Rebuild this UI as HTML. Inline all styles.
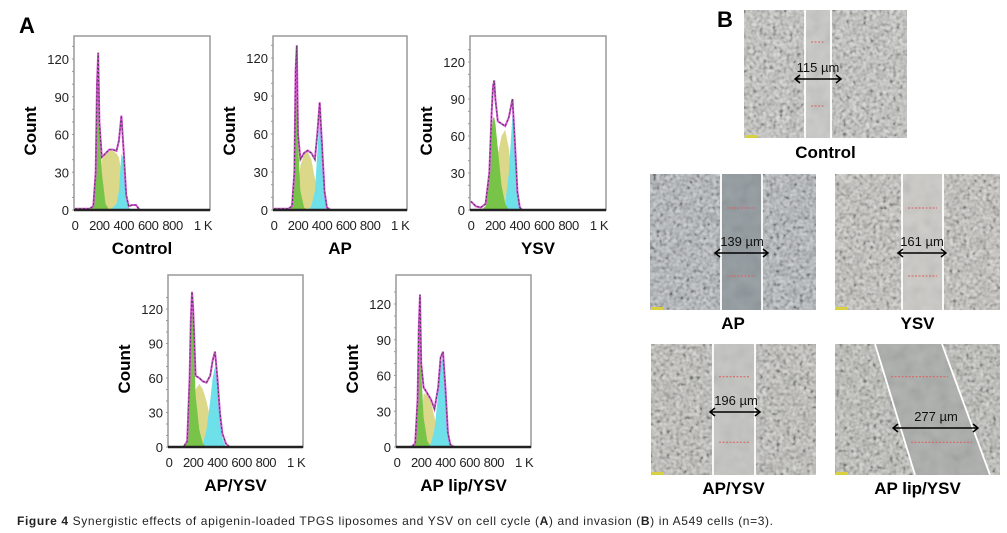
<!DOCTYPE html>
<html><head><meta charset="utf-8">
<style>
html,body{margin:0;padding:0;background:#fff;}
svg{display:block;font-family:"Liberation Sans",sans-serif;}
</style></head>
<body>
<svg id="fig" width="1007" height="533" viewBox="0 0 1007 533" xmlns="http://www.w3.org/2000/svg">
<defs>
<filter id="tex" x="0" y="0" width="100%" height="100%">
<feTurbulence type="fractalNoise" baseFrequency="0.3" numOctaves="2" seed="5"/>
<feGaussianBlur stdDeviation="0.5"/>
<feColorMatrix type="matrix" values="1.4 1.4 0 0 -0.9  1.4 1.4 0 0 -0.9  1.4 1.4 0 0 -0.9  0 0 0 0 0.4"/>
</filter>
<filter id="tex2" x="0" y="0" width="100%" height="100%">
<feTurbulence type="fractalNoise" baseFrequency="0.08" numOctaves="2" seed="9"/>
<feColorMatrix type="matrix" values="0.6 0.6 0 0 -0.2  0.6 0.6 0 0 -0.2  0.6 0.6 0 0 -0.2  0 0 0 0 0.12"/>
</filter>
</defs>
<text x="19" y="33" font-size="22" font-weight="bold">A</text>
<text x="717" y="27" font-size="22" font-weight="bold">B</text>
<g id="hists"></g>
<g id="imgs"></g>
<text x="17" y="525" font-size="12" fill="#222" textLength="756" lengthAdjust="spacing"><tspan font-weight="bold">Figure 4</tspan> Synergistic effects of apigenin-loaded TPGS liposomes and YSV on cell cycle (<tspan font-weight="bold">A</tspan>) and invasion (<tspan font-weight="bold">B</tspan>) in A549 cells (n=3).</text>
</svg>
<script>
// ---- histogram data (DNA content channel vs count) ----
const channelXs = [0,40,80,120,150,170,180,190,200,220,250,280,310,340,360,380,400,420,440,470,500,530];
const yTicks = [0,30,60,90,120];
const xTickLabels = ["0","200","400","600","800","1 K"];
const xTickValues = [0,200,400,600,800,1000];
const panelNames = ["Control","AP","YSV","AP/YSV","AP lip/YSV"];

const controlTotal = [1,1,1,1,3,30,100,125,70,42,45,48,48,47,55,75,45,12,3,4,4,0];
const controlG1    = [0,0,0,0,3,30,100,120,65,30,5,0,0,0,0,0,0,0,0,0,0,0];
const controlS     = [0,0,0,0,0,0,0,5,10,40,45,47,47,45,42,30,10,0,0,0,0,0];
const controlG2    = [0,0,0,0,0,0,0,0,0,0,0,0,2,5,15,45,40,12,2,0,0,0];

const apTotal = [1,1,1,1,3,30,110,130,60,40,45,47,45,40,60,85,50,15,2,0,0,0];
const apG1    = [0,0,0,0,3,30,105,125,55,15,2,0,0,0,0,0,0,0,0,0,0,0];
const apS     = [0,0,0,0,0,0,0,5,15,35,44,46,40,25,10,3,0,0,0,0,0,0];
const apG2    = [0,0,0,0,0,0,0,0,0,0,0,0,3,15,45,75,50,15,2,0,0,0];

const ysvTotal = [7,3,2,5,30,80,100,105,90,72,70,68,75,90,55,15,2,0,0,0,0,0];
const ysvG1    = [0,0,0,3,25,65,75,75,70,50,20,5,0,0,0,0,0,0,0,0,0,0];
const ysvS     = [0,0,0,0,0,5,10,15,20,45,60,65,50,25,8,0,0,0,0,0,0,0];
const ysvG2    = [0,0,0,0,0,0,0,0,0,0,0,5,30,78,50,15,2,0,0,0,0,0];

const apYsvTotal = [0,0,0,0,5,60,110,135,120,62,60,57,56,62,75,83,60,30,12,3,0,0];
const apYsvG1    = [0,0,0,0,5,55,100,120,110,45,15,3,0,0,0,0,0,0,0,0,0,0];
const apYsvS     = [0,0,0,0,0,0,5,10,25,50,55,50,40,25,12,4,0,0,0,0,0,0];
const apYsvG2    = [0,0,0,0,0,0,0,0,0,0,0,3,15,40,60,70,55,25,8,0,0,0];

const apLipTotal = [0,0,0,0,3,40,100,128,70,50,45,40,32,50,75,80,50,12,2,0,0,0];
const apLipG1    = [0,0,0,0,3,38,95,120,65,25,5,0,0,0,0,0,0,0,0,0,0,0];
const apLipS     = [0,0,0,0,0,0,3,8,20,45,44,38,25,10,3,0,0,0,0,0,0,0];
const apLipG2    = [0,0,0,0,0,0,0,0,0,0,0,3,15,45,70,75,45,10,1,0,0,0];

const series = [
  [controlTotal,controlG1,controlS,controlG2],
  [apTotal,apG1,apS,apG2],
  [ysvTotal,ysvG1,ysvS,ysvG2],
  [apYsvTotal,apYsvG1,apYsvS,apYsvG2],
  [apLipTotal,apLipG1,apLipS,apLipG2]
];
// layout (pixels) for each histogram
const layout = [
  {l:74,r:210,t:36,b:210,y120:59},
  {l:273,r:407,t:36,b:210,y120:58},
  {l:470,r:606,t:36,b:210,y120:62},
  {l:168,r:303,t:275,b:447,y120:309},
  {l:396,r:531,t:275,b:447,y120:304}
];
const NS="http://www.w3.org/2000/svg";
function mk(tag,attrs,parent){const e=document.createElementNS(NS,tag);for(const k in attrs)e.setAttribute(k,attrs[k]);parent.appendChild(e);return e;}
const hg=document.getElementById('hists');
layout.forEach((L,i)=>{
  const g=mk('g',{},hg);
  
  
  const yScale=v=>L.b-(L.b-L.y120)*v/120;
  const xScale=v=>L.l+1+v*0.122*(L.r-L.l)/136;
  const fr=mk('rect',{x:L.l,y:L.t,width:L.r-L.l,height:L.b-L.t,fill:'#fff',stroke:'#999','stroke-width':1.5},g);
  
  
  for(let v=0;v<=135;v+=10){mk('line',{x1:L.l-2,x2:L.l,y1:yScale(v),y2:yScale(v),stroke:'#999','stroke-width':1},g);}
  yTicks.forEach(v=>{
    const t=mk('text',{x:L.l-5,y:yScale(v)+5,'font-size':13,'text-anchor':'end',fill:'#222'},g);
    t.textContent=v;
    
    
  });
  xTickValues.forEach((v,j)=>{
    const t=mk('text',{x:xScale(v)+(j===5?6:0),y:L.b+20,'font-size':13,'text-anchor':'middle',fill:'#222','letter-spacing':'-0.4'},g);
    t.textContent=xTickLabels[j];
    
    
  });
  const yl=mk('text',{x:0,y:0,'font-size':17,'font-weight':'bold','text-anchor':'middle',transform:`translate(${L.l-38},${(L.t+L.b)/2+8}) rotate(-90)`},g);
  yl.textContent='Count';
  
  
  const xl=mk('text',{x:(L.l+L.r)/2,y:L.b+44,'font-size':17,'font-weight':'bold','text-anchor':'middle'},g);
  xl.textContent=panelNames[i];
  
  
  const [tot,g1,s,g2]=series[i];
  const area=(arr,fill,name)=>{
    let d=`M${xScale(channelXs[0])},${yScale(0)}`;
    arr.forEach((v,k)=>{d+=` L${xScale(channelXs[k]).toFixed(1)},${yScale(v).toFixed(1)}`;});
    d+=` L${xScale(channelXs[channelXs.length-1])},${yScale(0)} Z`;
    const p=mk('path',{d:d,fill:fill,stroke:'none'},g);
    
    
  };
  area(s,'#dcd88a','s-phase-area');
  area(g2,'#6ee0ea','g2-phase-area');
  area(g1,'#78c448','g1-phase-area');
  const line=(arr,col,w,dash,name)=>{
    let d='';
    arr.forEach((v,k)=>{d+=(k?' L':'M')+xScale(channelXs[k]).toFixed(1)+','+yScale(v).toFixed(1);});
    d+=` L${xScale(1050)},${yScale(0)}`;
    const p=mk('path',{d:d,fill:'none',stroke:col,'stroke-width':w,'stroke-dasharray':dash},g);
    
    
  };
  line(tot,'#d64fd6',2,'none','model-fit-line');
  line(tot,'#444',1,'2,2','measured-line');
  mk('line',{x1:L.l,x2:L.r,y1:L.b,y2:L.b,stroke:'#222','stroke-width':2.5},g);
});

// ---- scratch images ----
const imgs=[
  {n:'control',lab:'Control',x:744,y:10,w:163,h:128,c:'#c8c8c4',gc:'#cacac8',l1:[805,805],l2:[831,831],ay:79,ax:[795,841],txt:'115 µm',ty:72,tx:818,ly:158},
  {n:'ap',lab:'AP',x:650,y:174,w:166,h:136,c:'#b0b6ba',gc:'#929a9f',l1:[721,721],l2:[762,762],ay:253,ax:[715,768],txt:'139 µm',ty:246,tx:742,ly:329},
  {n:'ysv',lab:'YSV',x:835,y:174,w:165,h:136,c:'#c8c5bf',gc:'#cdcbc7',l1:[902,902],l2:[943,943],ay:253,ax:[898,946],txt:'161 µm',ty:246,tx:922,ly:329},
  {n:'ap-ysv',lab:'AP/YSV',x:651,y:344,w:165,h:131,c:'#c2c1bb',gc:'#c5c5c2',l1:[713,713],l2:[755,755],ay:412,ax:[710,760],txt:'196 µm',ty:405,tx:736,ly:494},
  {n:'ap-lip-ysv',lab:'AP lip/YSV',x:835,y:344,w:165,h:131,c:'#bebeb8',gc:'#acaeac',l1:[875,915],l2:[942,990],ay:428,ax:[893,978],txt:'277 µm',ty:421,tx:936,ly:494}
];
const ig=document.getElementById('imgs');
imgs.forEach(I=>{
  const g=mk('g',{},ig);
  
  
  mk('rect',{x:I.x,y:I.y,width:I.w,height:I.h,fill:I.c},g);
  mk('rect',{x:I.x,y:I.y,width:I.w,height:I.h,filter:'url(#tex)'},g);
  mk('polygon',{points:`${I.l1[0]},${I.y} ${I.l2[0]},${I.y} ${I.l2[1]},${I.y+I.h} ${I.l1[1]},${I.y+I.h}`,fill:I.gc},g);
  mk('rect',{x:I.x,y:I.y,width:I.w,height:I.h,filter:'url(#tex2)'},g);
  [0.25,0.75].forEach(fr=>{
    const yy=I.y+I.h*fr;
    const xa=I.l1[0]+(I.l1[1]-I.l1[0])*fr+6, xb=I.l2[0]+(I.l2[1]-I.l2[0])*fr-6;
    mk('line',{x1:xa,x2:xb,y1:yy,y2:yy,stroke:'#d86060','stroke-width':1,'stroke-dasharray':'2,1.5'},g);
  });
  mk('line',{x1:I.l1[0],y1:I.y,x2:I.l1[1],y2:I.y+I.h,stroke:'#fff','stroke-width':1.8},g);
  mk('line',{x1:I.l2[0],y1:I.y,x2:I.l2[1],y2:I.y+I.h,stroke:'#fff','stroke-width':1.8},g);
  mk('rect',{x:I.x+1,y:I.y+I.h-3,width:12,height:3,fill:'#d8d040'},g);
  const a=mk('path',{d:`M${I.ax[0]},${I.ay} L${I.ax[1]},${I.ay} M${I.ax[0]+5},${I.ay-4} L${I.ax[0]},${I.ay} L${I.ax[0]+5},${I.ay+4} M${I.ax[1]-5},${I.ay-4} L${I.ax[1]},${I.ay} L${I.ax[1]-5},${I.ay+4}`,stroke:'#000','stroke-width':1.5,fill:'none'},g);
  
  
  const t=mk('text',{x:I.tx,y:I.ty,'font-size':13,'text-anchor':'middle',fill:'#111'},g);
  t.textContent=I.txt;
  
  
  const l=mk('text',{x:I.x+I.w/2,y:I.ly,'font-size':17,'font-weight':'bold','text-anchor':'middle'},g);
  l.textContent=I.lab;
  
  
});
</script>
</body></html>
